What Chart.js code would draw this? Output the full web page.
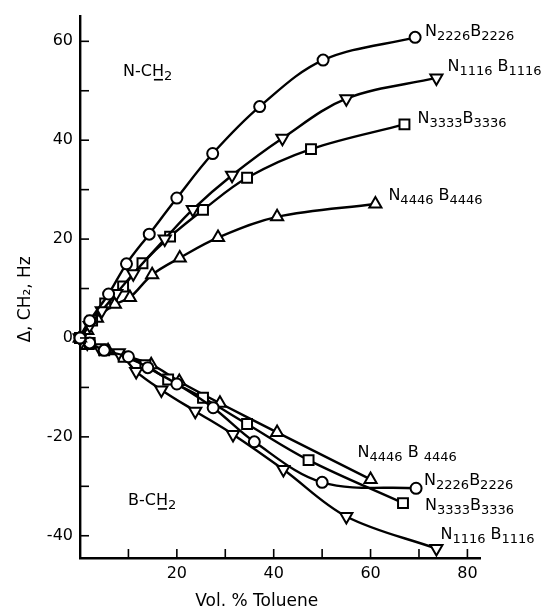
<!DOCTYPE html>
<html>
<head>
<meta charset="utf-8">
<script src="https://cdn.jsdelivr.net/npm/chart.js@4/dist/chart.umd.min.js"></script>
<style>
  html, body { margin: 0; padding: 0; background: #fff; }
  canvas { display: block; }
</style>
</head>
<body>
<canvas id="c" width="548" height="610"></canvas>
<script>
// ---- Data ----
// N-CH2 shifts (upper branch)
const xN2226_N = [0, 2, 5.9, 9.6, 14.3, 20, 27.4, 37.1, 50.2, 69.2];
const yN2226_N = [0, 3.5, 8.9, 15, 21, 28.3, 37.3, 46.8, 56.2, 60.8];
const xN1116_N = [0, 2, 4.5, 7.5, 11, 17.5, 23.3, 31.4, 41.8, 55, 73.6];
const yN1116_N = [0, 2.5, 5.5, 9, 13, 20, 26, 32.9, 40.4, 48.4, 52.6];
const xN3333_N = [0, 2.5, 5.2, 8.9, 12.9, 18.6, 25.4, 34.5, 47.7, 67];
const yN3333_N = [0, 3.5, 7, 10.4, 15.1, 20.5, 25.9, 32.4, 38.2, 43.2];
const xN4446_N = [0, 1.5, 3.5, 7.2, 10.3, 14.9, 20.6, 28.5, 40.7, 61];
const yN4446_N = [0, 1.5, 4, 6.8, 8.2, 12.8, 16.2, 20.3, 24.5, 27.1];
// B-CH2 shifts (lower branch)
const xN2226_B = [0, 2, 5, 10, 14, 20, 27.5, 36, 50, 69.4];
const yN2226_B = [0, -1, -2.5, -3.8, -6, -9.3, -14.1, -21, -29.2, -30.4];
const xN1116_B = [0, 1.5, 4, 8, 11.6, 16.8, 23.8, 31.6, 42, 55, 73.6];
const yN1116_B = [0, -1, -2, -3, -6.8, -10.5, -14.8, -19.5, -26.6, -36.1, -42.6];
const xN3333_B = [0, 2, 5, 9, 13.5, 18.2, 25.4, 34.5, 47.2, 66.7];
const yN3333_B = [0, -1, -2.5, -3.8, -5.5, -8.4, -12.1, -17.4, -24.7, -33.4];
const xN4446_B = [0, 1.5, 5.8, 14.7, 20.5, 28.9, 40.7, 60];
const yN4446_B = [0, -1.5, -2.6, -5.4, -8.8, -13.2, -19.1, -28.6];

const xTicks = [0, 10, 20, 30, 40, 50, 60, 70, 80];
const yTicks = [-40, -30, -20, -10, 0, 10, 20, 30, 40, 50, 60];
const xTickLabels = [20, 40, 60, 80];
const yTickLabels = [-40, -20, 0, 20, 40, 60];

// ---- Series labels ----
// parts: [text, isSubscript]
const lblN2226 = [["N", 0], ["2226", 1], ["B", 0], ["2226", 1]];
const lblN1116 = [["N", 0], ["1116", 1], [" B", 0], ["1116", 1]];
const lblN3333 = [["N", 0], ["3333", 1], ["B", 0], ["3336", 1]];
const lblN4446 = [["N", 0], ["4446", 1], [" B", 0], ["4446", 1]];
const lblN4446b = [["N", 0], ["4446", 1], [" B ", 0], ["4446", 1]];

function pts(xs, ys) { return xs.map((x, i) => ({ x: x, y: ys[i] })); }

function ds(xs, ys, style, rot, radius, label, dx, dy) {
  return {
    data: pts(xs, ys),
    showLine: true,
    borderColor: '#000',
    borderWidth: 2.4,
    tension: 0.35,
    pointStyle: style,
    pointRotation: rot,
    pointRadius: radius,
    pointBackgroundColor: '#fff',
    pointBorderColor: '#000',
    pointBorderWidth: 2,
    clip: false,
    seriesLabel: label,
    labelDx: dx,
    labelDy: dy
  };
}

const datasets = [
  ds(xN2226_N, yN2226_N, 'circle', 0, 5.5, lblN2226, 10, -1),
  ds(xN1116_N, yN1116_N, 'triangle', 180, 7, lblN1116, 11, -7),
  ds(xN3333_N, yN3333_N, 'rect', 0, 7, lblN3333, 13, -1),
  ds(xN4446_N, yN4446_N, 'triangle', 0, 7, lblN4446, 13, -4),
  ds(xN2226_B, yN2226_B, 'circle', 0, 5.5, lblN2226, 8, -3),
  ds(xN1116_B, yN1116_B, 'triangle', 180, 7, lblN1116, 4, -10),
  ds(xN3333_B, yN3333_B, 'rect', 0, 7, lblN3333, 22, 7),
  ds(xN4446_B, yN4446_B, 'triangle', 0, 7, lblN4446b, -13, -22)
];

const FONT = '"DejaVu Sans", sans-serif';

function drawParts(ctx, x, y, parts) {
  ctx.textAlign = 'left';
  ctx.textBaseline = 'alphabetic';
  let cx = x;
  parts.forEach(p => {
    if (p[1]) {
      ctx.font = '13px ' + FONT;
      ctx.fillText(p[0], cx, y + 4);
    } else {
      ctx.font = '16px ' + FONT;
      ctx.fillText(p[0], cx, y);
    }
    cx += ctx.measureText(p[0]).width;
  });
  return cx;
}

function drawCH2(ctx, x, y, prefix) {
  ctx.font = '16px ' + FONT;
  ctx.textAlign = 'left';
  ctx.textBaseline = 'alphabetic';
  const pre = prefix + '-C';
  ctx.fillText(pre, x, y);
  let cx = x + ctx.measureText(pre).width;
  ctx.fillText('H', cx, y);
  const hw = ctx.measureText('H').width;
  ctx.fillRect(cx + 2, y + 3, hw - 3, 1.6);
  cx += hw;
  ctx.font = '13px ' + FONT;
  ctx.fillText('2', cx, y + 4);
}

const decor = {
  id: 'decor',
  afterDatasetsDraw(chart) {
    const ctx = chart.ctx;
    const xs = chart.scales.x, ys = chart.scales.y;
    const area = chart.chartArea;
    ctx.save();
    ctx.strokeStyle = '#000';
    ctx.fillStyle = '#000';
    ctx.lineWidth = 1.6;
    // inward ticks
    xTicks.forEach(v => {
      if (v === 0) return;
      const px = xs.getPixelForValue(v);
      ctx.beginPath();
      ctx.moveTo(px, area.bottom);
      ctx.lineTo(px, area.bottom - 9);
      ctx.stroke();
    });
    yTicks.forEach(v => {
      const py = ys.getPixelForValue(v);
      ctx.beginPath();
      ctx.moveTo(area.left, py);
      ctx.lineTo(area.left + 9, py);
      ctx.stroke();
    });
    // series labels at curve ends
    chart.data.datasets.forEach(d => {
      const last = d.data[d.data.length - 1];
      const px = xs.getPixelForValue(last.x) + d.labelDx;
      const py = ys.getPixelForValue(last.y) + d.labelDy;
      drawParts(ctx, px, py, d.seriesLabel);
    });
    // region labels
    drawCH2(ctx, area.left + 43, ys.getPixelForValue(53), 'N');
    drawCH2(ctx, area.left + 48, ys.getPixelForValue(-33.8), 'B');
    // axis titles
    ctx.font = '17px ' + FONT;
    ctx.textAlign = 'center';
    ctx.textBaseline = 'alphabetic';
    ctx.fillText('Vol. % Toluene', xs.getPixelForValue(36.5), chart.height - 4);
    ctx.save();
    ctx.translate(30, ys.getPixelForValue(7.8));
    ctx.rotate(-Math.PI / 2);
    ctx.fillText('Δ, CH\u2082, Hz', 0, 0);
    ctx.restore();
    ctx.restore();
  }
};

new Chart(document.getElementById('c'), {
  type: 'scatter',
  data: { datasets: datasets },
  options: {
    responsive: false,
    animation: false,
    devicePixelRatio: 1,
    layout: { padding: { top: 13, right: 68, left: 0, bottom: 0 } },
    plugins: { legend: { display: false }, tooltip: { enabled: false } },
    scales: {
      x: {
        type: 'linear',
        min: 0,
        max: 82.6,
        grid: { display: false, drawTicks: false },
        border: { display: true, color: '#000', width: 2.4 },
        afterBuildTicks: s => { s.ticks = xTicks.map(v => ({ value: v })); },
        afterFit: s => { s.height = 52; },
        ticks: {
          autoSkip: false,
          maxRotation: 0,
          padding: 6,
          color: '#000',
          font: { family: FONT, size: 16 },
          callback: v => (xTickLabels.includes(v) ? String(v) : '')
        }
      },
      y: {
        type: 'linear',
        min: -44.5,
        max: 65,
        grid: { display: false, drawTicks: false },
        border: { display: true, color: '#000', width: 2.4 },
        afterBuildTicks: s => { s.ticks = yTicks.map(v => ({ value: v })); },
        afterFit: s => { s.width = 80; },
        ticks: {
          autoSkip: false,
          padding: 7,
          color: '#000',
          font: { family: FONT, size: 16 },
          callback: v => (yTickLabels.includes(v) ? String(v) : '')
        }
      }
    }
  },
  plugins: [decor]
});
</script>
</body>
</html>
